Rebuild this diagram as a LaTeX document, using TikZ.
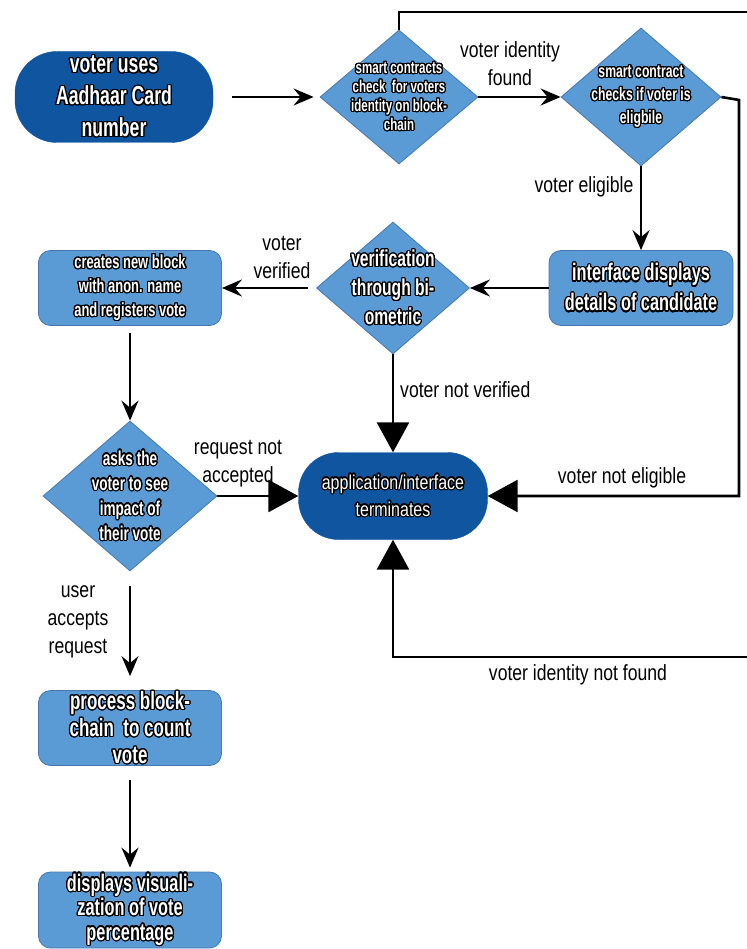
\documentclass[tikz,border=0pt]{standalone}
\usepackage{fontspec}
\setmainfont{Liberation Sans}
\newfontfamily\labf{Liberation Sans}[FakeStretch=0.8]
\newfontfamily\boxf{Liberation Sans}[FakeStretch=0.68]
\usepackage{contour}
\contourlength{1.2pt}
\contournumber{24}
\usetikzlibrary{shapes.geometric,arrows.meta}
\definecolor{lblue}{RGB}{91,155,213}
\definecolor{dblue}{RGB}{16,85,160}
\definecolor{lbord}{RGB}{70,120,175}
\newcommand\ot[1]{\contour{black}{#1}}
\tikzset{
  conn/.style={line width=2.6pt, black},
  arr/.style={conn, -{Stealth[length=20pt,width=17pt,inset=7pt]}},
  bigarr/.style={conn, -{Triangle[length=30pt,width=32pt]}},
  dia/.style={diamond, fill=lblue, draw=lbord, line width=0.8pt, inner sep=0pt},
  dtext/.style={text=white, align=center, inner sep=0pt},
  box/.style={rectangle, rounded corners=12pt, fill=lblue, draw=lbord, line width=0.8pt, text=white, align=center, inner sep=0pt, minimum width=183pt, minimum height=75pt},
  termbox/.style={rectangle, fill=dblue, draw=dblue, text=white, align=center, inner sep=0pt},
  lab/.style={font=\labf\fontsize{22}{28}\selectfont, align=center, text=black, inner sep=0pt},
}
\begin{document}
\begin{tikzpicture}[x=1pt,y=-1pt]
\useasboundingbox[fill=white] (0,0) rectangle (746,949);

% terminal shapes
\node[termbox, minimum width=198pt, minimum height=91pt, rounded corners=42pt,
      font=\boxf\bfseries\fontsize{26}{32}\selectfont] (start) at (114,97)
      {\ot{voter uses}\\\ot{Aadhaar Card}\\\ot{number}};
\node[termbox, minimum width=189pt, minimum height=87pt, rounded corners=40pt,
      font=\labf\fontsize{20}{27}\selectfont] (term) at (393,496)
      {\ot{application/interface}\\\ot{terminates}};

% diamonds
\node[dia, minimum width=158pt, minimum height=134pt] (d1) at (399,97) {};
\node[dtext, font=\boxf\bfseries\fontsize{17}{19}\selectfont] (d1t) at (d1)
      {\ot{smart contracts}\\\ot{check~ for voters}\\\ot{identity on block-}\\\ot{chain}};
\node[dia, minimum width=160pt, minimum height=138pt] (d2) at (641,97) {};
\node[dtext, font=\boxf\bfseries\fontsize{18}{23}\selectfont] (d2t) at (d2)
      {\ot{smart contract}\\\ot{checks if voter is}\\\ot{eligbile}};
\node[dia, minimum width=153pt, minimum height=132pt] (d3) at (393,288) {};
\node[dtext, font=\boxf\bfseries\fontsize{23}{29}\selectfont] (d3t) at (d3)
      {\ot{verification}\\\ot{through bi-}\\\ot{ometric}};
\node[dia, minimum width=174pt, minimum height=150pt] (d4) at (130,496) {};
\node[dtext, font=\boxf\bfseries\fontsize{20}{25}\selectfont] (d4t) at (d4)
      {\ot{asks the}\\\ot{voter to see}\\\ot{impact of}\\\ot{their vote}};

% boxes
\node[box, font=\boxf\bfseries\fontsize{19}{24}\selectfont] (create) at (130,288)
      {\ot{creates new block}\\\ot{with anon. name}\\\ot{and registers vote}};
\node[box, minimum width=184pt, font=\boxf\bfseries\fontsize{24}{30}\selectfont] (iface) at (641,288)
      {\ot{interface displays}\\\ot{details of candidate}};
\node[box, font=\boxf\bfseries\fontsize{25}{27}\selectfont] (process) at (130,728)
      {\ot{process block-}\\\ot{chain~ to count}\\\ot{vote}};
\node[box, minimum height=76pt, font=\boxf\bfseries\fontsize{24}{24.5}\selectfont] (displays) at (130,910)
      {\ot{displays visuali-}\\\ot{zation of vote}\\\ot{percentage}};

% labels
\node[lab] (l1) at (510,64) {voter identity\\found};
\node[lab] (l2) at (584,187) {voter eligible};
\node[lab] (l3) at (282,257) {voter\\verified};
\node[lab, anchor=west] (l4) at (400,390) {voter not verified};
\node[lab] (l5) at (238,464) {request not\\accepted};
\node[lab] (l6) at (622,478) {voter not eligible};
\node[lab] (l7) at (578,675) {voter identity not found};
\node[lab] (l8) at (78,622) {user\\accepts\\request};

% connectors
\draw[arr, shorten <=19pt, shorten >=6pt] (start.east) -- (d1.west);
\draw[arr] (d1.east) -- (d2.west);
\draw[arr] (d2.south) -- (iface.north);
\draw[arr] (iface.west) -- (d3.east);
\draw[arr, shorten <=8pt] (d3.west) -- (create.east);
\draw[arr, shorten <=7pt] (create.south) -- (d4.north);
\draw[bigarr] (d4.east) -- (term.west);
\draw[bigarr] (d3.south) -- (term.north);
\draw[arr, shorten <=15pt, shorten >=14pt] (d4.south) -- (process.north);
\draw[arr, shorten <=14pt, shorten >=4pt] (process.south) -- (displays.north);
\coordinate (cR) at (739,100);
\draw[bigarr] (d2.east) -- (cR) |- (term.east);
\coordinate (cTop) at (770,12);
\coordinate (cBot) at (770,657);
\draw[bigarr] (d1.north) |- (cTop) -- (cBot) -| (term.south);
\end{tikzpicture}
\end{document}
